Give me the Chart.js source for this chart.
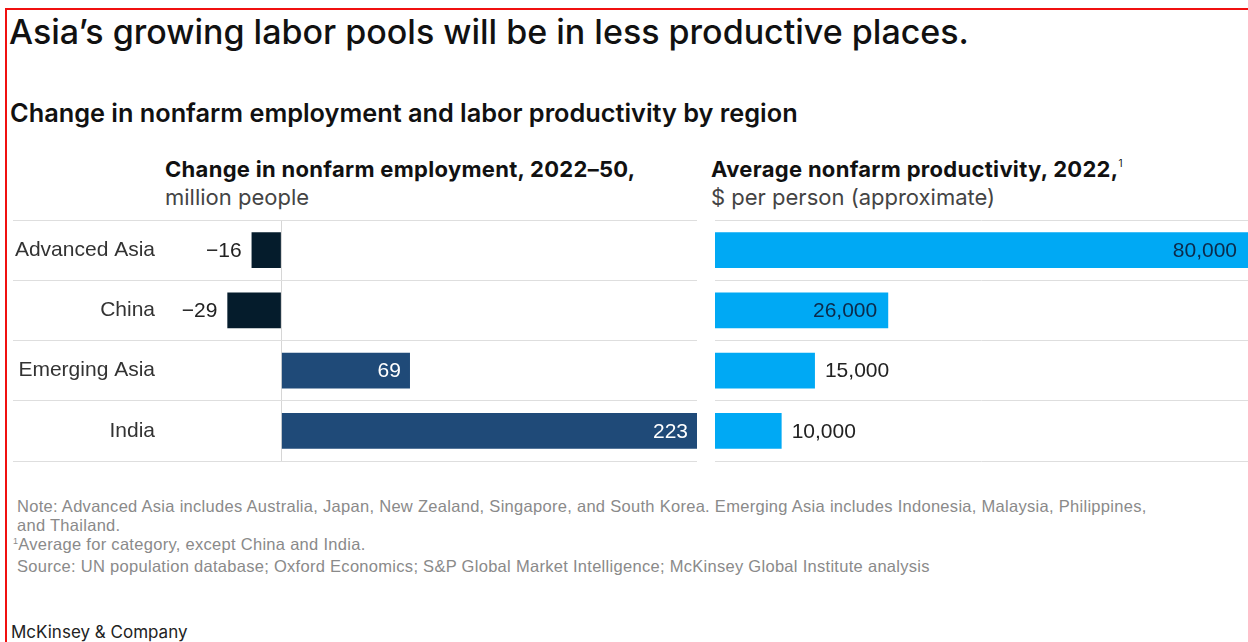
<!DOCTYPE html>
<html>
<head>
<meta charset="utf-8">
<script src="https://cdn.jsdelivr.net/npm/chart.js@4.4.1/dist/chart.umd.min.js"></script>
<style>
  html, body { margin: 0; padding: 0; background: #fff; }
  body { width: 1248px; height: 642px; position: relative; overflow: hidden; font-family: "Inter", "Liberation Sans", sans-serif; color: #111; }
  .frame { position: absolute; left: 5px; top: 8px; right: -20px; bottom: -20px; border-top: 2px solid #f01010; border-left: 2px solid #f01010; }
  .t { position: absolute; white-space: nowrap; }
  #title { left: 9px; top: 15px; font-size: 34px; line-height: 34px; font-weight: 500; color: #111; }
  #subtitle { left: 10px; top: 100px; font-size: 25.3px; line-height: 25px; font-weight: 600; color: #111; }
  .hd { font-size: 22px; line-height: 28px; color: #111; }
  .hd b { font-weight: 700; letter-spacing: 0.3px; }
  .hd span { color: #444; }
  .hd i { font-style: normal; font-size: 10px; line-height: 0; position: relative; top: -10px; font-weight: 400; }
  #hdL { left: 165px; top: 155px; }
  #hdR { left: 711px; top: 155px; }
  .note { font-family: "Liberation Sans", sans-serif; font-size: 16.5px; line-height: 19px; letter-spacing: 0.29px; color: #8a8a8a; left: 17px; }
  .note i { font-style: normal; font-size: 9px; position: relative; top: -6px; line-height: 0; }
  #brand { left: 11px; top: 624px; font-size: 17px; line-height: 17px; color: #222; }
  canvas { position: absolute; }
</style>
</head>
<body>
<div class="frame"></div>
<div class="t" id="title">Asia’s growing labor pools will be in less productive places.</div>
<div class="t" id="subtitle">Change in nonfarm employment and labor productivity by region</div>
<div class="t hd" id="hdL"><b>Change in nonfarm employment, 2022–50,</b><br><span>million people</span></div>
<div class="t hd" id="hdR"><b>Average nonfarm productivity, 2022,</b><i>1</i><br><span>$ per person (approximate)</span></div>
<div class="t note" style="top:497px">Note: Advanced Asia includes Australia, Japan, New Zealand, Singapore, and South Korea. Emerging Asia includes Indonesia, Malaysia, Philippines,</div>
<div class="t note" style="top:516px">and Thailand.</div>
<div class="t note" style="top:535px; left:13px"><i>1</i>Average for category, except China and India.</div>
<div class="t note" style="top:557px">Source: UN population database; Oxford Economics; S&amp;P Global Market Intelligence; McKinsey Global Institute analysis</div>
<div class="t" id="brand">McKinsey &amp; Company</div>

<canvas id="left" style="left:0; top:210px" width="706" height="262"></canvas>
<canvas id="right" style="left:706px; top:210px" width="542" height="262"></canvas>

<script>
const regions = ['Advanced Asia', 'China', 'Emerging Asia', 'India'];
const employmentChange = [-16, -29, 69, 223];
const productivity = [80000, 26000, 15000, 10000];

const navy = '#051c2c';
const midBlue = '#1f4a78';
const cyan = '#00a9f4';
const labelFamily = '"Liberation Sans", sans-serif';
const labelFont = '21px ' + labelFamily;

// measure widest row label so the right edge of the labels lands at x=155
const mctx = document.createElement('canvas').getContext('2d');
mctx.font = labelFont;
const widest = Math.max(...regions.map(r => mctx.measureText(r).width));

// axes take no room of their own: the chart area is set by layout padding
function noRoom(axis) {
  axis.width = axis.isHorizontal() ? axis.width : 0;
  axis.height = axis.isHorizontal() ? 0 : axis.height;
  axis.paddingTop = axis.paddingBottom = axis.paddingLeft = axis.paddingRight = 0;
}

function valueLabels(fmt, place) {
  return {
    id: 'valueLabels',
    afterDatasetsDraw(chart) {
      const ctx = chart.ctx;
      const meta = chart.getDatasetMeta(0);
      const data = chart.data.datasets[0].data;
      ctx.save();
      ctx.font = labelFont;
      ctx.textBaseline = 'middle';
      meta.data.forEach((bar, i) => {
        const v = data[i];
        const pos = place(v);
        ctx.fillStyle = pos.color;
        ctx.textAlign = pos.align;
        ctx.fillText(fmt(v), bar.x + pos.dx, bar.y + 1);
      });
      ctx.restore();
    }
  };
}

Chart.defaults.animation = false;
Chart.defaults.responsive = false;

new Chart(document.getElementById('left'), {
  type: 'bar',
  data: {
    labels: regions,
    datasets: [{
      data: employmentChange,
      backgroundColor: employmentChange.map(v => v < 0 ? navy : midBlue),
      barPercentage: 0.59,
      categoryPercentage: 1
    }]
  },
  options: {
    indexAxis: 'y',
    layout: { padding: { left: 13, right: 9, top: 10, bottom: 11 } },
    plugins: { legend: { display: false }, tooltip: { enabled: false } },
    scales: {
      x: {
        min: -144, max: 223,
        ticks: { display: false },
        border: { display: false },
        grid: { drawTicks: false, color: ctx => ctx.tick && ctx.tick.value === 0 ? '#d6d6d6' : 'transparent' },
        afterBuildTicks: axis => { axis.ticks = [{ value: 0 }]; },
        afterFit: noRoom
      },
      y: {
        border: { display: false },
        grid: { drawTicks: false, color: '#dedede', lineWidth: 1 },
        ticks: {
          mirror: true, crossAlign: 'far', padding: 142 - widest,
          font: { family: labelFamily, size: 21 }, color: '#333'
        },
        afterFit: noRoom
      }
    }
  },
  plugins: [valueLabels(
    v => v < 0 ? '\u2212' + Math.abs(v) : String(v),
    v => v < 0 ? { color: '#222', align: 'right', dx: -10 } : { color: '#fff', align: 'right', dx: -9 }
  )]
});

new Chart(document.getElementById('right'), {
  type: 'bar',
  data: {
    labels: regions,
    datasets: [{
      data: productivity,
      backgroundColor: cyan,
      barPercentage: 0.59,
      categoryPercentage: 1
    }]
  },
  options: {
    indexAxis: 'y',
    layout: { padding: { left: 9, right: 0, top: 10, bottom: 11 } },
    plugins: { legend: { display: false }, tooltip: { enabled: false } },
    scales: {
      x: { display: false, min: 0, max: 80000 },
      y: {
        border: { display: false },
        grid: { drawTicks: false, color: '#dedede', lineWidth: 1 },
        ticks: { display: false }
      }
    }
  },
  plugins: [valueLabels(
    v => v.toLocaleString('en-US'),
    v => v >= 20000 ? { color: '#0c2a4a', align: 'right', dx: -11 } : { color: '#222', align: 'left', dx: 10 }
  )]
});
</script>
</body>
</html>
